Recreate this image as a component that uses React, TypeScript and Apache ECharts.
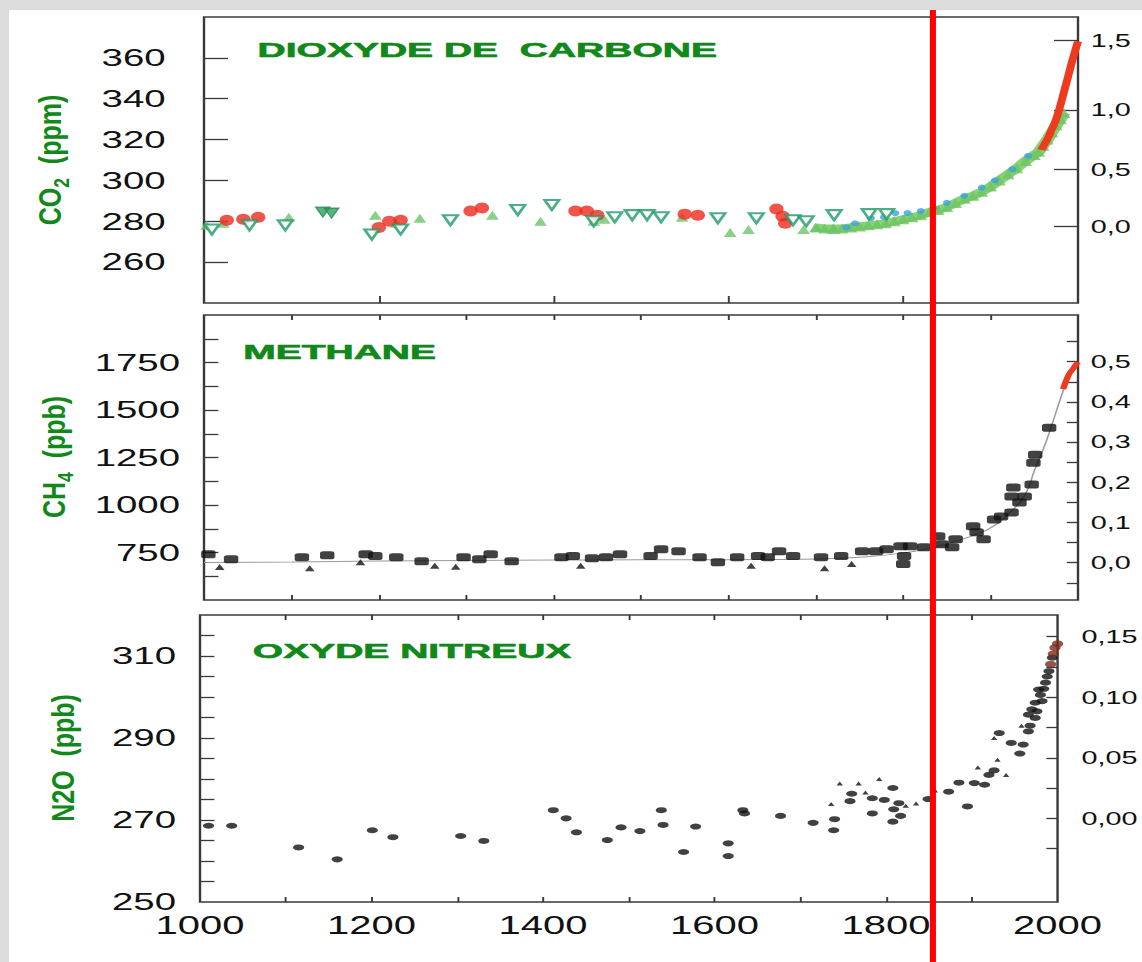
import React, { useEffect, useRef } from "react";
import * as echarts from "echarts";

// ---------- page geometry (chart is drawn narrow, then stretched horizontally like the source scan) ----------
const STRETCH = 1.6;
const CHART_W = 714;
const CHART_H = 962;

// ---------- texts ----------
const titles = ["DIOXYDE DE  CARBONE", "METHANE", "OXYDE NITREUX"];

// ---------- axis ticks / labels ----------
const yearTicksMajor = [1200, 1400, 1600, 1800];
const yearTicksMinor = [1100, 1200, 1300, 1400, 1500, 1600, 1700, 1800, 1900];
const yearLabels = [1000, 1200, 1400, 1600, 1800, 2000];

const co2Ticks = [260, 280, 300, 320, 340, 360];
const co2ForcingTickPpm = [277.5, 305.5, 334.5, 368.5];
const co2ForcingLabels = ["0,0", "0,5", "1,0", "1,5"];

const ch4Ticks = [625, 750, 875, 1000, 1125, 1250, 1375, 1500, 1625, 1750, 1875];
const ch4Labels = [750, 1000, 1250, 1500, 1750];
const ch4ForcingTicks = [-0.05, 0, 0.05, 0.1, 0.15, 0.2, 0.25, 0.3, 0.35, 0.4, 0.45, 0.5, 0.55];
const ch4ForcingLabels = [0, 0.1, 0.2, 0.3, 0.4, 0.5];

const n2oTicks = [255, 260, 265, 270, 275, 280, 285, 290, 295, 300, 305, 310, 315];
const n2oLabels = [250, 270, 290, 310];
const n2oForcingTicks = [-0.025, 0, 0.025, 0.05, 0.075, 0.1, 0.125, 0.15];
const n2oForcingLabels = [0, 0.05, 0.1, 0.15];

const redLineYear = 1834;

// ---------- CO2 data (year, ppm) ----------
const co2RedDots = [
  [1026, 280.5], [1045, 281], [1062, 282], [1200, 277], [1212, 280], [1225, 280.5],
  [1305, 285], [1318, 286.5], [1425, 285], [1438, 285], [1450, 283],
  [1550, 283.5], [1565, 283], [1655, 286], [1662, 282.5], [1665, 279],
];
const co2OpenTriangles = [
  [1009, 276], [1052, 278], [1093, 278], [1192, 273.5], [1225, 276], [1282, 280.5],
  [1359, 285.5], [1398, 288], [1446, 280], [1470, 282], [1490, 283], [1507, 283],
  [1523, 282], [1588, 281.5], [1632, 281.5], [1674, 280.5], [1689, 280], [1721, 283],
  [1761, 283.5], [1781, 283.5],
];
const co2DarkTriangles = [[1136, 284.5], [1146, 284]];
const co2LightTriangles = [
  [1003, 278], [1022, 279], [1097, 282], [1196, 283], [1220, 279], [1247, 281.5],
  [1330, 283], [1385, 280], [1446, 280], [1458, 281], [1547, 282], [1602, 274.5],
  [1623, 276], [1686, 276], [1700, 277], [1721, 276],
];
const co2Band = [
  [1700, 277], [1710, 276.5], [1720, 276.5], [1730, 276.5], [1740, 277], [1750, 277.5],
  [1760, 278], [1770, 278.5], [1780, 279], [1790, 280], [1800, 281], [1810, 282],
  [1820, 283], [1830, 284.5], [1840, 285.5], [1850, 287], [1860, 289], [1870, 291],
  [1880, 292.5], [1890, 294.5], [1900, 297], [1910, 300], [1920, 303], [1930, 306],
  [1940, 309.5], [1950, 312.5], [1955, 314], [1960, 317], [1965, 320], [1970, 323.5],
  [1975, 327], [1980, 330], [1984, 333],
];
const co2Blue = [
  [1735, 277], [1745, 279], [1763, 281.5], [1778, 282], [1791, 284], [1805, 284],
  [1820, 285], [1835, 286.5], [1850, 289], [1870, 292.5], [1890, 296.5], [1905, 300],
  [1925, 305.5], [1943, 312],
];
const co2Recent = [
  [1958, 315], [1962, 318], [1966, 321], [1970, 325], [1975, 330], [1980, 337],
  [1985, 345], [1990, 353], [1995, 361], [2000, 368],
];

// ---------- CH4 data (year, ppb) ----------
const ch4Squares = [
  [1005, 741], [1031, 715], [1112, 725], [1141, 736], [1185, 741], [1196, 731],
  [1220, 725], [1249, 704], [1297, 725], [1315, 715], [1328, 741], [1352, 704],
  [1409, 725], [1422, 731], [1444, 720], [1460, 725], [1476, 741], [1511, 731],
  [1523, 767], [1543, 757], [1567, 725], [1588, 699], [1610, 725], [1634, 731],
  [1645, 725], [1658, 757], [1674, 731], [1706, 725], [1729, 731], [1753, 757],
  [1769, 757], [1781, 767], [1797, 783], [1801, 731], [1800, 690], [1808, 783],
  [1824, 778], [1840, 836], [1844, 794], [1856, 778], [1860, 820], [1880, 888],
  [1884, 857], [1892, 820], [1904, 924], [1912, 940], [1924, 961], [1924, 1045],
  [1926, 1092], [1933, 1013], [1939, 1045], [1947, 1108], [1949, 1223], [1951, 1265],
  [1967, 1406],
];
const ch4Triangles = [
  [1018, 674], [1121, 667], [1179, 699], [1264, 680], [1288, 675], [1431, 680],
  [1626, 680], [1710, 667], [1741, 690],
];
const ch4Fit = [
  [1000, 697], [1100, 700], [1200, 705], [1300, 708], [1400, 710], [1500, 712],
  [1600, 712], [1700, 716], [1750, 725], [1800, 748], [1850, 795], [1880, 840],
  [1900, 880], [1920, 950], [1940, 1060], [1950, 1180], [1960, 1290], [1970, 1420],
  [1980, 1560], [1990, 1680], [2000, 1750],
];
const ch4Recent = [
  [1983, 1610], [1987, 1660], [1990, 1690], [1994, 1715], [1997, 1735], [2000, 1752],
];

// ---------- N2O data (year, ppb) ----------
const n2oDots = [
  [1010, 268.6], [1037, 268.6], [1115, 263.3], [1160, 260.4], [1201, 267.5], [1225, 265.8],
  [1304, 266.1], [1331, 264.9], [1412, 272.4], [1427, 270.4], [1439, 267], [1475, 265.1],
  [1491, 268.2], [1513, 267.3], [1538, 272.4], [1540, 268.8], [1564, 262.2], [1578, 268.4],
  [1616, 264.3], [1616, 261.2], [1635, 271.6], [1633, 272.4], [1677, 271], [1715, 269.3],
  [1740, 270.2], [1739, 267.5], [1760, 276.4], [1758, 274.6], [1784, 275.3], [1784, 271.6],
  [1798, 274.9], [1808, 277.8], [1808, 269.6], [1809, 272.6], [1815, 274.1], [1817, 271],
  [1849, 275.1], [1873, 276.9], [1885, 279.1], [1895, 273.3], [1903, 279], [1915, 278.6],
  [1920, 281], [1926, 282.1], [1932, 291.2], [1946, 288.8], [1960, 288.4], [1956, 286.2],
  [1966, 291.6], [1966, 295.7], [1968, 293], [1970, 297], [1974, 294.9], [1974, 298.6],
  [1976, 296.5], [1978, 301.8], [1980, 300.5], [1982, 299], [1984, 302], [1986, 303.5],
  [1988, 305], [1990, 306.3], [1994, 309.6],
];
const n2oTriangles = [
  [1736, 273.9], [1746, 278.9], [1768, 278.9], [1776, 276.7], [1792, 280], [1823, 273.5],
  [1835, 274], [1857, 277.2], [1907, 282.8], [1930, 284.7], [1940, 281], [1926, 290],
  [1958, 293],
];
const n2oRecent = [[1992, 308], [1995, 310.5], [1997, 312], [2000, 313]];

// ---------- styling ----------
const FONT = "'Liberation Sans', Arial, sans-serif";
const GREEN = "#10891a";
const FRAME = "#3a3a3a";

function xAxis(gridIndex: number, position: string, ticks: number[], tickLen: number, labels?: number[]) {
  return {
    type: "value",
    gridIndex,
    position,
    min: 1000,
    max: 2000,
    axisLine: { show: false, onZero: false },
    splitLine: { show: false },
    axisTick: {
      show: ticks.length > 0,
      inside: true,
      length: tickLen,
      customValues: ticks.length ? ticks : undefined,
      lineStyle: { color: FRAME, width: 1.2 },
    },
    axisLabel: labels
      ? {
          show: true,
          customValues: labels,
          formatter: (v: number) => String(v),
          margin: 11,
          fontSize: 25,
          color: "#111",
          fontFamily: FONT,
        }
      : { show: false },
  };
}

function yAxis(
  gridIndex: number,
  position: string,
  min: number,
  max: number,
  ticks: number[],
  labels: number[],
  fmt: (v: number) => string,
  tickLen: number,
  margin: number,
  fontSize: number
) {
  return {
    type: "value",
    gridIndex,
    position,
    min,
    max,
    axisLine: { show: false, onZero: false },
    splitLine: { show: false },
    axisTick: { show: true, inside: true, length: tickLen, customValues: ticks, lineStyle: { color: FRAME, width: 1.3 } },
    axisLabel: { show: true, customValues: labels, formatter: fmt, margin, fontSize, color: "#111", fontFamily: FONT },
  };
}

function scatter(name: string, x: number, y: number, data: number[][], symbol: string, size: number[], itemStyle: any, extra: any = {}) {
  return { name, type: "scatter", xAxisIndex: x, yAxisIndex: y, data, symbol, symbolSize: size, itemStyle, z: 3, ...extra };
}

function buildOption() {
  const gridBase = { show: true, borderColor: FRAME, borderWidth: 1.5, backgroundColor: "#ffffff" };
  return {
    animation: false,
    backgroundColor: "transparent",
    grid: [
      { ...gridBase, left: 127.5, right: 40.25, top: 17, height: 286 },
      { ...gridBase, left: 127.5, right: 40.25, top: 315, height: 285 },
      { ...gridBase, left: 125, right: 44.6, top: 615, height: 287 },
    ],
    xAxis: [
      xAxis(0, "bottom", yearTicksMajor, 7),
      xAxis(1, "bottom", yearTicksMinor, 5),
      xAxis(2, "bottom", yearTicksMinor, 5, yearLabels),
      xAxis(1, "top", yearTicksMinor, 5),
      xAxis(2, "top", yearTicksMinor, 5),
    ],
    yAxis: [
      yAxis(0, "left", 240, 380, co2Ticks, co2Ticks, (v) => String(v), 15, 24, 24),
      yAxis(0, "right", 240, 380, co2ForcingTickPpm, co2ForcingTickPpm,
        (v) => co2ForcingLabels[co2ForcingTickPpm.indexOf(v)] ?? "", 15, 8, 18),
      yAxis(1, "left", 500, 2000, ch4Ticks, ch4Labels, (v) => String(v), 9, 15, 24),
      yAxis(1, "right", -0.0928, 0.6162, ch4ForcingTicks, ch4ForcingLabels,
        (v) => v.toFixed(1).replace(".", ","), 7, 8, 18),
      yAxis(2, "left", 250, 320, n2oTicks, n2oLabels, (v) => String(v), 9, 15, 24),
      yAxis(2, "right", -0.0691, 0.1679, n2oForcingTicks, n2oForcingLabels,
        (v) => v.toFixed(2).replace(".", ","), 7, 15, 18),
    ],
    series: [
      // CO2
      { name: "co2band", type: "line", xAxisIndex: 0, yAxisIndex: 0, data: co2Band, showSymbol: false,
        lineStyle: { color: "#86d276", width: 8 }, z: 2 },
      scatter("co2band-pts", 0, 0, co2Band, "triangle", [8, 10], { color: "#6fc463" }),
      scatter("co2blue", 0, 0, co2Blue, "circle", [5, 6], { color: "#3aa3dc" }),
      scatter("co2light", 0, 0, co2LightTriangles, "triangle", [8, 9], { color: "#6cc46a" }),
      scatter("co2red", 0, 0, co2RedDots, "circle", [9, 11], { color: "#ee2b1c" }),
      scatter("co2open", 0, 0, co2OpenTriangles, "triangle", [9, 10],
        { color: "#ffffff", borderColor: "#1f9a68", borderWidth: 2 }, { symbolRotate: 180, z: 4 }),
      scatter("co2dark", 0, 0, co2DarkTriangles, "triangle", [9, 10],
        { color: "#2fa05a", borderColor: "#1f8a50", borderWidth: 1 }, { symbolRotate: 180 }),
      { name: "co2recent", type: "line", xAxisIndex: 0, yAxisIndex: 0, data: co2Recent, showSymbol: false,
        smooth: true, lineStyle: { color: "#ee3a1e", width: 5 }, z: 5 },
      // CH4
      { name: "ch4fit", type: "line", xAxisIndex: 1, yAxisIndex: 2, data: ch4Fit, showSymbol: false,
        smooth: true, lineStyle: { color: "#9a9a9a", width: 1 }, z: 2 },
      scatter("ch4sq", 1, 2, ch4Squares, "roundRect", [9, 8], { color: "#111" }),
      scatter("ch4tri", 1, 2, ch4Triangles, "triangle", [6, 6], { color: "#111" }),
      { name: "ch4recent", type: "line", xAxisIndex: 1, yAxisIndex: 2, data: ch4Recent, showSymbol: false,
        smooth: true, lineStyle: { color: "#ee3a1e", width: 4 }, z: 5 },
      // N2O
      scatter("n2odots", 2, 4, n2oDots, "circle", [7, 6], { color: "#111" }),
      scatter("n2otri", 2, 4, n2oTriangles, "triangle", [4, 4], { color: "#111" }),
      scatter("n2orecent", 2, 4, n2oRecent, "circle", [7, 7], { color: "#7a2c1c" }),
    ],
  };
}

function axisName(x: number, y: number, main: string, sub: string, rest: string) {
  return {
    type: "text",
    x,
    y,
    rotation: Math.PI / 2,
    scaleX: 1.25,
    z: 10,
    style: {
      text: sub ? `{a|${main}}{s|${sub}}{a|${rest}}` : `{a|${main}${rest}}`,
      align: "center",
      verticalAlign: "middle",
      rich: {
        a: { fontSize: 20, fontWeight: "bold", fontFamily: FONT, fill: GREEN, lineHeight: 28, verticalAlign: "middle" },
        s: { fontSize: 14, fontWeight: "bold", fontFamily: FONT, fill: GREEN, lineHeight: 14, verticalAlign: "bottom" },
      },
    },
  };
}

function titleText(x: number, y: number, text: string) {
  return {
    type: "text",
    x,
    y,
    scaleX: 1.25,
    z: 10,
    style: {
      text,
      fill: GREEN,
      stroke: GREEN,
      lineWidth: 0.6,
      fontSize: 19.5,
      fontWeight: "bold",
      fontFamily: FONT,
      verticalAlign: "middle",
    },
  };
}

export default function App() {
  const ref = useRef<HTMLDivElement>(null);
  useEffect(() => {
    if (!ref.current) return;
    const chart = echarts.init(ref.current, null, { renderer: "svg" });
    chart.setOption(buildOption() as any);
    const xr = chart.convertToPixel({ xAxisIndex: 0 }, redLineYear) as number;
    chart.setOption({
      graphic: [
        titleText(161, 50, titles[0]),
        titleText(152, 352, titles[1]),
        titleText(158, 651, titles[2]),
        axisName(31, 160, "CO", "2", "  (ppm)"),
        axisName(33.5, 457, "CH", "4", "  (ppb)"),
        axisName(39, 758, "N2O", "", "  (ppb)"),
        {
          type: "line",
          z: 100,
          shape: { x1: xr, y1: 10, x2: xr, y2: CHART_H },
          style: { stroke: "#ff0000", lineWidth: 3.8 },
        },
      ],
    } as any);
    return () => chart.dispose();
  }, []);

  return (
    <div
      style={{
        position: "fixed",
        left: 0,
        top: 0,
        width: 1142,
        height: 962,
        overflow: "hidden",
        background: "#dcdcdc",
      }}
    >
      <div style={{ position: "absolute", left: 9, top: 10, right: 0, bottom: 0, background: "#ffffff" }} />
      <div
        ref={ref}
        style={{
          position: "absolute",
          left: 0,
          top: 0,
          width: CHART_W,
          height: CHART_H,
          transform: `scaleX(${STRETCH})`,
          transformOrigin: "0 0",
        }}
      />
    </div>
  );
}
